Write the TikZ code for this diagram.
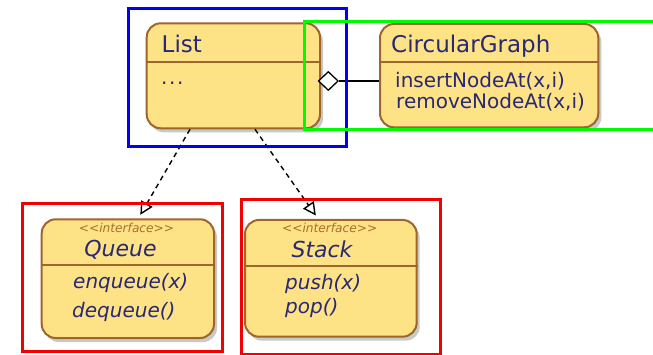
\documentclass[tikz,border=0pt]{standalone}
\usepackage{fontspec}
\setmainfont{DejaVu Sans}
\usetikzlibrary{shapes.geometric,arrows.meta,shadows,calc}
\definecolor{clsfill}{RGB}{254,226,134}
\definecolor{clsdraw}{RGB}{160,100,45}
\definecolor{txt}{RGB}{40,40,115}
\definecolor{stereo}{RGB}{170,110,50}
\definecolor{grn}{RGB}{0,250,0}
\definecolor{blu}{RGB}{0,0,245}
\definecolor{rd}{RGB}{245,0,0}
\begin{document}
\begin{tikzpicture}[x=1pt,y=-1pt,
  cls/.style={draw=clsdraw, fill=clsfill, line width=2pt, rounded corners=14pt, inner sep=0pt,
    drop shadow={shadow xshift=3pt, shadow yshift=-4pt, opacity=0.3, fill=black!70}},
  div/.style={draw=clsdraw, line width=2pt},
  ttl/.style={text=txt, font=\fontsize{23}{26}\selectfont, inner sep=0pt},
  ittl/.style={text=txt, font=\fontsize{22}{26}\selectfont\itshape, inner sep=0pt},
  mth/.style={text=txt, font=\fontsize{20}{24}\selectfont, inner sep=0pt, anchor=base west},
  imth/.style={text=txt, font=\fontsize{20}{24}\selectfont\itshape, inner sep=0pt, anchor=base west},
  ster/.style={text=stereo, font=\fontsize{12.2}{14}\selectfont\itshape, inner sep=0pt, anchor=base},
  dep/.style={dashed, dash pattern=on 5pt off 4pt, line width=1.4pt, -{Triangle[open,length=13pt,width=13pt]}},
  frame/.style={line width=3pt}
]
\useasboundingbox (0,0) rectangle (653,355);
% classes
\node[cls, minimum width=173.3pt, minimum height=105pt] (list) at (233.35,75.8) {};
\node[cls, minimum width=218.3pt, minimum height=103.3pt] (circ) at (489.15,75.65) {};
\node[cls, minimum width=172.3pt, minimum height=118.7pt] (queue) at (127.85,278.65) {};
\node[cls, minimum width=171.7pt, minimum height=116.7pt] (stack) at (330.85,278.35) {};
% dividers
\draw[div] (list.west |- 0,61.7) -- (list.east |- 0,61.7);
\draw[div] (circ.west |- 0,61.7) -- (circ.east |- 0,61.7);
\draw[div] (queue.west |- 0,265.3) -- (queue.east |- 0,265.3);
\draw[div] (stack.west |- 0,266) -- (stack.east |- 0,266);
% texts
\node[ttl, anchor=base west] (listT) at (161.5,52.5) {List};
\node[mth] (listA) at (161,85) {.\kern1.6pt.\kern1.6pt.};
\node[ttl, anchor=base west] (circT) at (391,53) {CircularGraph};
\node[mth] (circM1) at (395,87.5) {insertNodeAt(x,i)};
\node[mth] (circM2) at (396,108.5) {removeNodeAt(x,i)};
\node[ster] (queueS) at (126.5,232.5) {<{}<interface>{}>};
\node[ittl, anchor=base] (queueT) at (120.5,256.5) {Queue};
\node[imth] (queueM1) at (73,289) {enqueue(x)};
\node[imth] (queueM2) at (72,317.5) {dequeue()};
\node[ster] (stackS) at (329.7,233) {<{}<interface>{}>};
\node[ittl, anchor=base] (stackT) at (322,258) {Stack};
\node[imth] (stackM1) at (285,290) {push(x)};
\node[imth] (stackM2) at (285,313) {pop()};
% connectors
\node[draw=black, fill=white, diamond, line width=1.3pt, inner sep=0pt, minimum width=20pt, minimum height=19pt] (dia) at (328.3,81) {};
\draw[line width=1.3pt] (dia.east) -- (dia.east -| circ.west);
\draw[dep] ([xshift=-43.35pt]list.south) -- ([xshift=12.5pt,yshift=3.5pt]queue.north);
\draw[dep] ([xshift=21.65pt]list.south) -- ([xshift=-15pt,yshift=3.5pt]stack.north);
% frames
\draw[frame, blu] (128.3,8.3) rectangle (346.3,146.7);
\draw[frame, grn] (304.3,21.7) rectangle (658,129.5);
\draw[frame, rd] (22.3,204) rectangle (222.7,351.7);
\draw[frame, rd] (241,200) rectangle (440.7,354);
\end{tikzpicture}
\end{document}
